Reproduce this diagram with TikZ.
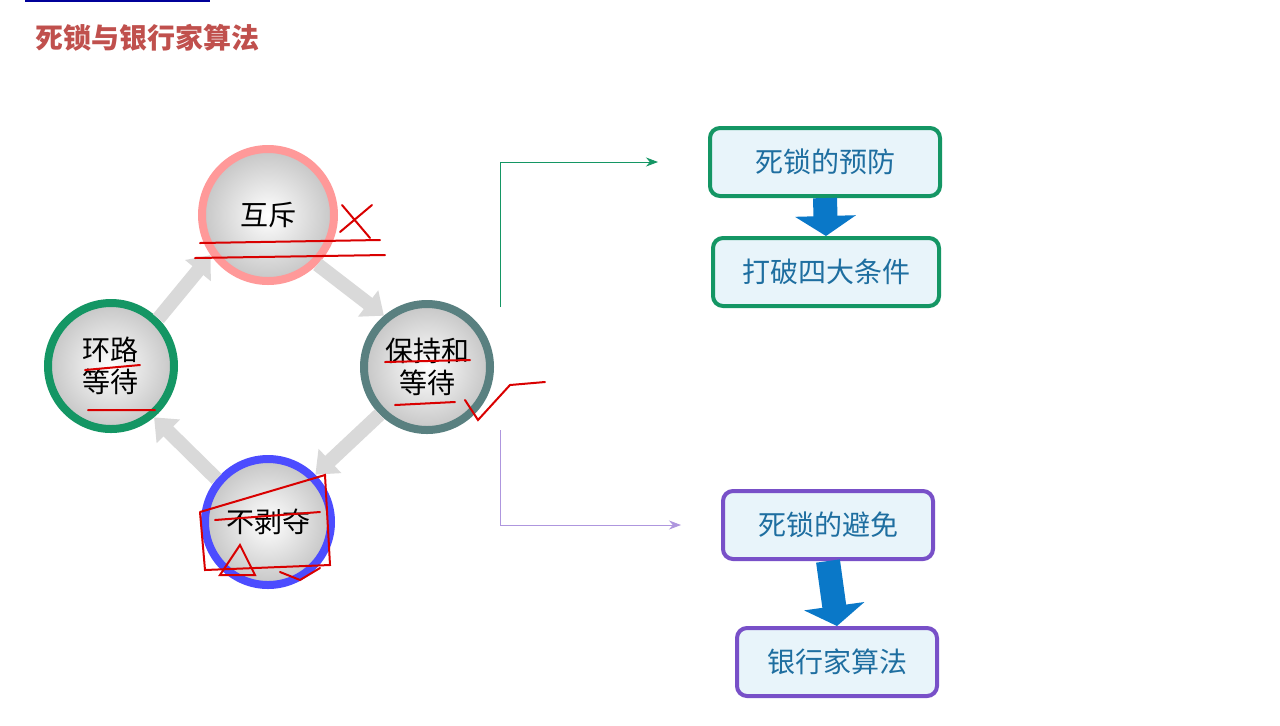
\documentclass[tikz,border=0pt]{standalone}
\usepackage{fontspec}
\setmainfont{Noto Sans CJK SC}
\usetikzlibrary{arrows.meta}
\definecolor{ttl}{RGB}{192,80,77}
\definecolor{bfill}{RGB}{232,244,250}
\definecolor{gbord}{RGB}{20,150,100}
\definecolor{pbord}{RGB}{120,80,200}
\definecolor{btxt}{RGB}{30,110,160}
\definecolor{barrow}{RGB}{10,120,200}
\tikzset{
 ring/.style={circle,minimum size=132pt*0.5,line width=4pt,inner color=white,outer color=gray!45,font=\fontsize{14}{16}\selectfont,align=center,text=black},
 gbox/.style={draw=gbord,line width=2pt,rounded corners=5pt,fill=bfill,text=btxt,font=\fontsize{14}{16}\selectfont,minimum height=34pt},
 pbox/.style={gbox,draw=pbord},
 garrow/.style={-{Triangle[length=10pt,width=16pt]},line width=7pt,gray!30},
 downar/.style={-{Triangle[length=10pt,width=30pt]},line width=12pt,barrow},
 redink/.style={red!85!black,line width=1pt,line cap=round}
}
\begin{document}
\begin{tikzpicture}[x=0.5pt,y=-0.5pt]
\useasboundingbox[fill=white](0,0) rectangle (1280,725);
\draw[line width=1pt,blue!60!black] (25,1) -- (210,1);
\node[anchor=west,text=ttl,font=\fontsize{14}{16}\selectfont\bfseries] (title) at (28,38) {死锁与银行家算法};
\node[ring,draw=pink!80!red,minimum size=66pt] (c1) at (268,215) {互斥};
\node[ring,draw=gray!70!teal,minimum size=63pt] (c2) at (427,367) {保持和\\等待};
\node[ring,draw=blue!70,minimum size=63pt] (c3) at (268,522) {不剥夺};
\node[ring,draw=gbord,minimum size=63pt] (c4) at (111,366) {环路\\等待};
\draw[garrow] (c4.45) -- (c1.215);
\draw[garrow] (c1.-45) -- (c2.130);
\draw[garrow] (c2.-135) -- (c3.45);
\draw[garrow] (c3.140) -- (c4.-50);
\node[gbox,minimum width=115pt] (p1) at (825,162) {死锁的预防};
\node[gbox,minimum width=113pt] (p2) at (826,272) {打破四大条件};
\node[pbox,minimum width=105pt] (a1) at (828,525) {死锁的避免};
\node[pbox,minimum width=100pt] (a2) at (837,662) {银行家算法};
\draw[downar] (p1.south) -- (p2.north);
\draw[downar] (a1.south) -- (a2.north);
\coordinate (u0) at (500,307);
\coordinate (d0) at (500,430);
\draw[gbord,-{Stealth[length=6pt]}] (u0) |- ([xshift=-25]p1.west);
\draw[pbord!60,-{Stealth[length=6pt]}] (d0) |- ([xshift=-20]a1.west);
% handwritten marks
\draw[redink] (340,232) -- (372,205) (342,205) -- (370,238);
\draw[redink] (200,243) -- (380,240) (195,258) -- (385,255);
\draw[redink] (385,362) -- (470,360) (395,405) -- (455,402);
\draw[redink] (465,400) -- (478,420) -- (510,385) -- (545,382);
\draw[redink] (85,370) -- (140,365) (88,410) -- (155,410);
\draw[redink] (200,512) -- (205,570) -- (330,565) -- (325,475) -- (200,512);
\draw[redink] (215,520) -- (320,512) (220,575) -- (240,545) -- (255,575) -- cycle;
\draw[redink] (280,572) -- (300,580) -- (320,568);
\end{tikzpicture}
\end{document}
